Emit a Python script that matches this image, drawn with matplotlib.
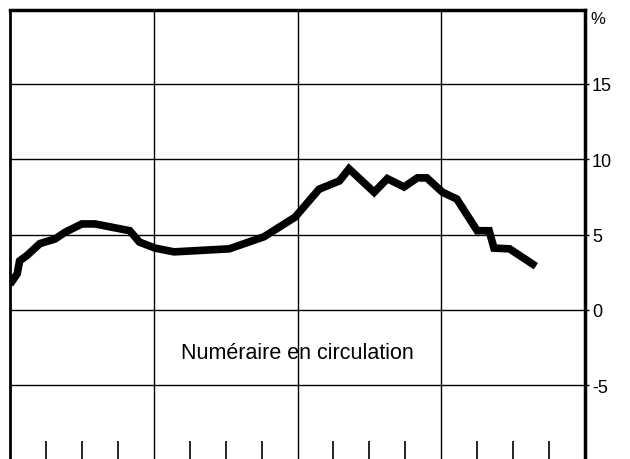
import matplotlib.pyplot as plt

plt.rcParams['font.family'] = ['Liberation Sans', 'DejaVu Sans']

# months since start of the 4-year window, and growth rate (%)
months = [0, 0.6, 0.8, 1.4, 2.5, 3.75, 4.6, 6.0, 7.1, 10.0, 10.8, 12.1,
          13.7, 18.3, 21.2, 23.8, 25.8, 27.5, 28.3, 30.4, 31.5, 32.9,
          34.0, 34.8, 36.1, 37.3, 39.0, 40.0, 40.4, 41.7, 43.9]
values = [1.7, 2.4, 3.25, 3.6, 4.4, 4.7, 5.15, 5.7, 5.7, 5.25, 4.5, 4.1,
          3.85, 4.05, 4.85, 6.15, 8.0, 8.55, 9.35, 7.8, 8.7, 8.15,
          8.75, 8.75, 7.8, 7.35, 5.25, 5.25, 4.1, 4.05, 2.9]

y_ticks = [-5, 0, 5, 10, 15]
y_labels = ['-5', '0', '5', '10', '15']
year_lines = [12, 24, 36]
quarter_ticks = [3, 6, 9, 15, 18, 21, 27, 30, 33, 39, 42, 45]
label = 'Numéraire en circulation'

fig = plt.figure(figsize=(6.3, 4.6), dpi=100)
ax = fig.add_axes([10 / 630, 0, 575 / 630, 449 / 460])

ax.set_xlim(0, 48)
ax.set_ylim(-9.87, 19.87)

# grid
for v in y_ticks:
    ax.axhline(v, color='black', lw=1.0, zorder=1)
for m in year_lines:
    ax.axvline(m, color='black', lw=1.0, zorder=1)

ax.plot(months, values, color='black', lw=5.5, solid_joinstyle='miter',
        solid_capstyle='butt', zorder=3)

# frame
ax.spines['bottom'].set_visible(False)
ax.spines['top'].set_linewidth(2.5)
ax.spines['left'].set_linewidth(2.0)
ax.spines['right'].set_linewidth(2.5)

# right-hand scale
ax.yaxis.tick_right()
ax.set_yticks(y_ticks)
ax.set_yticklabels(y_labels, fontsize=13)
ax.tick_params(axis='y', length=3, width=1, pad=2)
ax.text(1.01, 19.3, '%', transform=ax.get_yaxis_transform(),
        ha='left', va='center', fontsize=12)

# quarter ticks on the bottom, pointing in
ax.set_xticks(quarter_ticks)
ax.set_xticklabels([])
ax.tick_params(axis='x', direction='in', length=13, width=1.2)

ax.text(24, -3.18, label, ha='center', va='baseline', fontsize=15.5)

fig.savefig('out.png', dpi=100)
